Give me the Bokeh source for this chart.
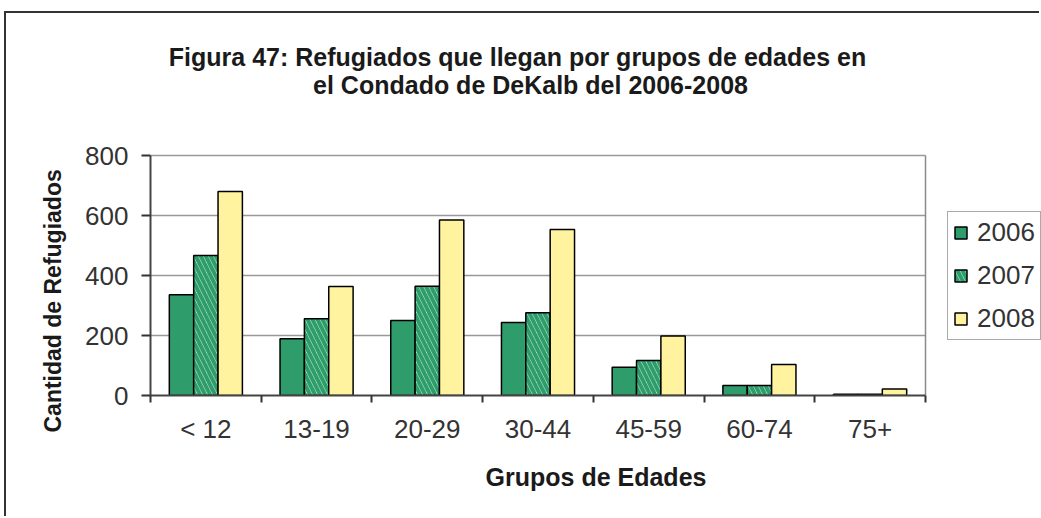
import numpy as np
from bokeh.plotting import figure
from bokeh.models import (Range1d, FixedTicker, Legend, LegendItem, Label, Title,
                          ColumnDataSource)
from bokeh.embed import file_html
from bokeh.resources import INLINE

# ---- data ----
categories = ["< 12", "13-19", "20-29", "30-44", "45-59", "60-74", "75+"]
years = ["2006", "2007", "2008"]
v2006 = [336, 189, 250, 243, 94, 33, 4]
v2007 = [467, 256, 364, 276, 117, 33, 4]
v2008 = [680, 363, 585, 553, 198, 103, 22]
y_ticks = [0, 200, 400, 600, 800]
title_lines = ["Figura 47: Refugiados que llegan por grupos de edades en",
               "el Condado de DeKalb del 2006-2008"]
x_title = "Grupos de Edades"
y_title = "Cantidad de Refugiados"

FONT = "Liberation Sans"
GREEN = "#2f9c6c"
MINT = "#c8f2d6"
YELLOW = "#fff3a0"

n = len(categories)
ymax = y_ticks[-1]
centers = np.arange(n) + 0.5
bw = 0.22

# ---- page geometry (pixels) ----
OX, OY = 6, 13            # page offset of the figure (css margin + border)
W, H = 1041 - OX, 518 - OY
PL, PR, PT, PB = 150, 925, 155, 395   # plot area in page pixels
FL = PL - OX              # frame left in figure px
FB = PB - OY              # frame bottom in figure px
xppu = (PR - PL) / n
yppu = (PB - PT) / ymax
x_end = (W - FL) / xppu
y_end = FB / yppu

p = figure(width=W, height=H, output_backend="svg", toolbar_location=None,
           x_range=Range1d(0, x_end), y_range=Range1d(0, y_end),
           min_border_left=FL, min_border_right=0,
           min_border_top=0, min_border_bottom=H - FB)
p.styles = {"border-top": "2px solid #333333", "border-left": "2px solid #333333",
            "margin-top": "%dpx" % (OY - 2), "margin-left": "%dpx" % (OX - 2)}
p.title = None
p.background_fill_color = "white"
p.border_fill_color = "white"
p.outline_line_color = None
p.grid.grid_line_color = None

# gridlines & right edge of plot area
p.segment(x0=0, x1=n, y0=y_ticks[1:], y1=y_ticks[1:], line_color="#999999",
          line_width=1.5)
p.segment(x0=n, x1=n, y0=0, y1=ymax, line_color="#8a8a8a", line_width=1.5)

src = ColumnDataSource(dict(x06=centers - bw, x07=centers, x08=centers + bw,
                            v06=v2006, v07=v2007, v08=v2008))
r06 = p.vbar(x="x06", top="v06", width=bw, source=src, fill_color=GREEN,
             line_color="black", line_width=1.5)
r07 = p.vbar(x="x07", top="v07", width=bw, source=src, fill_color=MINT,
             hatch_color=GREEN, hatch_pattern="left_diagonal_line",
             hatch_scale=10, hatch_weight=4,
             line_color="black", line_width=1.5)
r08 = p.vbar(x="x08", top="v08", width=bw, source=src, fill_color=YELLOW,
             line_color="black", line_width=1.5)

# axes
p.xaxis.bounds = (0, n)
p.xaxis.ticker = FixedTicker(ticks=list(centers), minor_ticks=list(range(n + 1)))
p.xaxis.major_label_overrides = {float(c): lab for c, lab in zip(centers, categories)}
p.xaxis.major_tick_line_color = None
p.xaxis.major_tick_out = 0
p.xaxis.major_tick_in = 0
p.xaxis.minor_tick_line_color = "#333333"
p.xaxis.minor_tick_line_width = 2
p.xaxis.minor_tick_out = 7
p.xaxis.minor_tick_in = 0
p.xaxis.axis_line_color = "#444444"
p.xaxis.axis_line_width = 2
p.xaxis.major_label_text_font = FONT
p.xaxis.major_label_text_font_size = "26px"
p.xaxis.major_label_text_color = "#333333"
p.xaxis.major_label_standoff = 11
p.xaxis.axis_label = x_title
p.xaxis.axis_label_text_font = FONT
p.xaxis.axis_label_text_font_style = "bold"
p.xaxis.axis_label_text_font_size = "25px"
p.xaxis.axis_label_text_color = "#1a1a1a"
p.xaxis.axis_label_standoff = 16

p.yaxis.bounds = (0, ymax)
p.yaxis.ticker = FixedTicker(ticks=y_ticks)
p.yaxis.minor_tick_line_color = None
p.yaxis.major_tick_out = 9
p.yaxis.major_tick_in = 0
p.yaxis.major_tick_line_color = "#333333"
p.yaxis.major_tick_line_width = 2
p.yaxis.axis_line_color = "#444444"
p.yaxis.axis_line_width = 2
p.yaxis.major_label_text_font = FONT
p.yaxis.major_label_text_font_size = "26px"
p.yaxis.major_label_text_color = "#333333"
p.yaxis.major_label_standoff = 13

# y-axis title as a side title, starting below the plot-area bottom like the original
p.add_layout(Title(text=y_title, align="left", offset=-(432 - PB), standoff=33,
                   text_font=FONT, text_font_style="bold", text_font_size="23px",
                   text_color="#1a1a1a"), "left")

# title lines (screen px relative to the plot area's bottom-left)
for t, cx, cy in zip(title_lines, (517, 530), (56, 84)):
    p.add_layout(Label(x=cx - PL, y=PB - cy, x_units="screen", y_units="screen",
                       text=t, text_font=FONT, text_font_style="bold",
                       text_font_size="25px", text_color="#1a1a1a",
                       text_align="center", text_baseline="middle"))

# legend
legend = Legend(items=[LegendItem(label=years[0], renderers=[r06]),
                       LegendItem(label=years[1], renderers=[r07]),
                       LegendItem(label=years[2], renderers=[r08])],
                location=(947 - PL, PB - 340), orientation="vertical",
                label_text_font=FONT, label_text_font_size="26px",
                label_text_color="#333333", label_height=26,
                glyph_width=15, glyph_height=15, label_standoff=9,
                padding=5, spacing=12, margin=0,
                border_line_color="#555555", border_line_width=1.5,
                background_fill_color="white", background_fill_alpha=1)
p.add_layout(legend, "center")

open("out.html", "w").write(file_html(p, INLINE))
